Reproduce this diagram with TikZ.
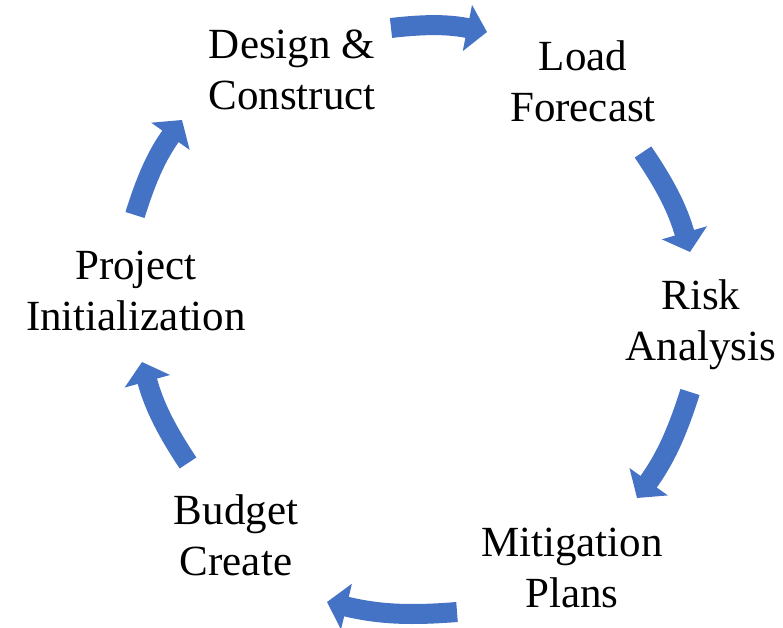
\documentclass[tikz,border=0pt]{standalone}
\usepackage{fontspec}
\setmainfont{Liberation Serif}
\usetikzlibrary{arrows.meta}
\definecolor{cycleblue}{HTML}{4472C4}
\begin{document}
\begin{tikzpicture}[x=1pt,y=1pt,
every node/.style={align=center,font=\fontsize{43}{51}\selectfont},
cyclearrow/.style={draw=cycleblue,line width=20pt,-{Triangle[length=20pt,width=46pt]},bend left=9}]

\useasboundingbox (0,0) rectangle (783,628);

\node (design)  at (292,558) {Design \&\\Construct};
\node (load)    at (583,547) {Load\\Forecast};
\node (risk)    at (701,303) {Risk\\Analysis};
\node (mitig)   at (572,60)  {Mitigation\\Plans};
\node (budget)  at (236,93)  {Budget\\Create};
\node (project) at (136,337) {Project\\Initialization};

\coordinate (s1) at (391,600); \coordinate (e1) at (487,596);
\coordinate (s2) at (643,476); \coordinate (e2) at (690,376);
\coordinate (s3) at (690,236); \coordinate (e3) at (637,130);
\coordinate (s4) at (457,16);  \coordinate (e4) at (327,26);
\coordinate (s5) at (188,165); \coordinate (e5) at (142,266);
\coordinate (s6) at (135,413); \coordinate (e6) at (182,508);

\draw[cyclearrow] (s1) to (e1);
\draw[cyclearrow] (s2) to (e2);
\draw[cyclearrow] (s3) to (e3);
\draw[cyclearrow] (s4) to (e4);
\draw[cyclearrow] (s5) to (e5);
\draw[cyclearrow] (s6) to (e6);

\end{tikzpicture}
\end{document}
